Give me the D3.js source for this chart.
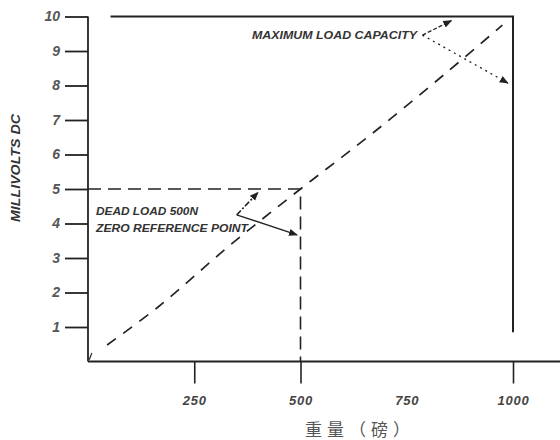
<!DOCTYPE html>
<html><head><meta charset="utf-8">
<script src="https://cdn.jsdelivr.net/npm/d3@7"></script>
<style>body{margin:0;background:#fff}svg{display:block}</style>
</head><body>
<script>
const weights = [45, 165, 335, 500, 670, 845, 975];
const millivolts = [0.48, 1.58, 3.38, 5.0, 6.62, 8.39, 9.75];
const yTicks = [1,2,3,4,5,6,7,8,9,10];
const xTicks = [250, 500, 750, 1000];
const xTickMarks = [250, 500, 1000];
const deadLoad = {w: 500, mv: 5};
const maxLoad = {w: 1000, mv: 10};
const xTitle = "重量（磅）";
const yTitle = "MILLIVOLTS DC";

const W = 560, H = 440;
const svg = d3.select("body").append("svg").attr("width", W).attr("height", H);
const x = d3.scaleLinear().domain([0, 1000]).range([88, 513]);
const y = d3.scaleLinear().domain([0, 10]).range([361.5, 16.5]);
const ink = "#222";
const fontA = "Liberation Sans, Arial, sans-serif";

// axes
svg.append("line").attr("x1", x(0)).attr("x2", W).attr("y1", y(0)).attr("y2", y(0))
  .attr("stroke", ink).attr("stroke-width", 1.8);
svg.append("line").attr("x1", x(0)).attr("x2", x(0)).attr("y1", y(10)).attr("y2", y(0))
  .attr("stroke", ink).attr("stroke-width", 1.8);

const yAxis = d3.axisLeft(y).tickValues(yTicks).tickSize(23).tickPadding(5).tickFormat(d3.format("d"));
const gy = svg.append("g").attr("transform", `translate(${x(0)},0)`).call(yAxis);
gy.select(".domain").remove();
gy.selectAll(".tick line").attr("stroke", ink).attr("stroke-width", 1.8);
gy.selectAll(".tick text").attr("font-family", fontA)
  .attr("font-size", 14).attr("font-style", "italic").attr("font-weight", "bold").attr("fill", "#555");

const xAxis = d3.axisBottom(x).tickValues(xTicks).tickSize(22).tickPadding(12).tickFormat(d3.format("d"));
const gx = svg.append("g").attr("transform", `translate(0,${y(0)})`).call(xAxis);
gx.select(".domain").remove();
gx.selectAll(".tick line").attr("stroke", ink).attr("stroke-width", 1.6)
  .attr("opacity", d => xTickMarks.includes(d) ? 1 : 0);
gx.selectAll(".tick text").attr("font-family", fontA)
  .attr("font-size", 13).attr("font-style", "italic").attr("font-weight", "bold").attr("fill", "#444")
  .attr("letter-spacing", 0.8);

// titles
svg.append("text").attr("x", 360).attr("y", 436).attr("text-anchor", "middle")
  .attr("font-family", "Noto Sans CJK SC").attr("font-size", 17).attr("letter-spacing", 5)
  .attr("fill", "#555").text(xTitle);
svg.append("text").attr("transform", "translate(20,168) rotate(-90)").attr("text-anchor", "middle")
  .attr("font-family", fontA).attr("font-size", 12)
  .attr("font-style", "italic").attr("font-weight", "bold").attr("fill", "#333")
  .attr("textLength", 108).attr("lengthAdjust", "spacingAndGlyphs").text(yTitle);

// max load frame (solid)
svg.append("path").attr("d", d3.line()([[x(53), y(maxLoad.mv)], [x(maxLoad.w), y(maxLoad.mv)], [x(maxLoad.w), y(0.85)]]))
  .attr("fill", "none").attr("stroke", ink).attr("stroke-width", 2);

// dead load frame (dashed)
svg.append("path").attr("d", d3.line()([[x(0), y(deadLoad.mv)], [x(deadLoad.w), y(deadLoad.mv)], [x(deadLoad.w), y(0)]]))
  .attr("fill", "none").attr("stroke", ink).attr("stroke-width", 1.6).attr("stroke-dasharray", "13,7");

// response line
svg.append("path").datum(weights.map((w, i) => [w, millivolts[i]]))
  .attr("d", d3.line().x(d => x(d[0])).y(d => y(d[1])).curve(d3.curveCatmullRom))
  .attr("fill", "none").attr("stroke", ink).attr("stroke-width", 1.7).attr("stroke-dasharray", "11,9");
// tiny mark at origin
svg.append("path").attr("d", d3.line()([[x(3), y(0.05)], [x(9), y(0.25)]]))
  .attr("fill", "none").attr("stroke", ink).attr("stroke-width", 1.2);

// arrow markers
const defs = svg.append("defs");
defs.append("marker").attr("id", "ah").attr("viewBox", "0 0 10 10").attr("refX", 9).attr("refY", 5)
  .attr("markerWidth", 9).attr("markerHeight", 9).attr("markerUnits", "userSpaceOnUse").attr("orient", "auto")
  .append("path").attr("d", "M0,1 L10,5 L0,9 Z").attr("fill", ink);

function arrow(from, to, dash, sw) {
  svg.append("line").attr("x1", x(from[0])).attr("y1", y(from[1])).attr("x2", x(to[0])).attr("y2", y(to[1]))
    .attr("stroke", ink).attr("stroke-width", sw).attr("stroke-dasharray", dash).attr("marker-end", "url(#ah)");
}
// dead load annotation
const dlV = [350, 4.25];
arrow(dlV, [400, 4.9], "6,2,2,2", 1.6);
arrow(dlV, [492, 3.67], null, 1.4);
// max load annotation
const mlV = [787, 9.46];
arrow(mlV, [855, 9.88], "4,2", 1.3);
arrow(mlV, [988, 8.07], "2,4", 1.3);

function label(t, px, py, len) {
  svg.append("text").attr("x", px).attr("y", py).attr("font-family", fontA).attr("font-size", 10)
    .attr("font-style", "italic").attr("font-weight", "bold").attr("fill", "#333")
    .attr("textLength", len).attr("lengthAdjust", "spacingAndGlyphs").text(t);
}
label("DEAD LOAD 500N", 96, 215, 102);
label("ZERO REFERENCE POINT", 96, 232, 152);
label("MAXIMUM LOAD CAPACITY", 252, 39, 165);
</script>
</body></html>
